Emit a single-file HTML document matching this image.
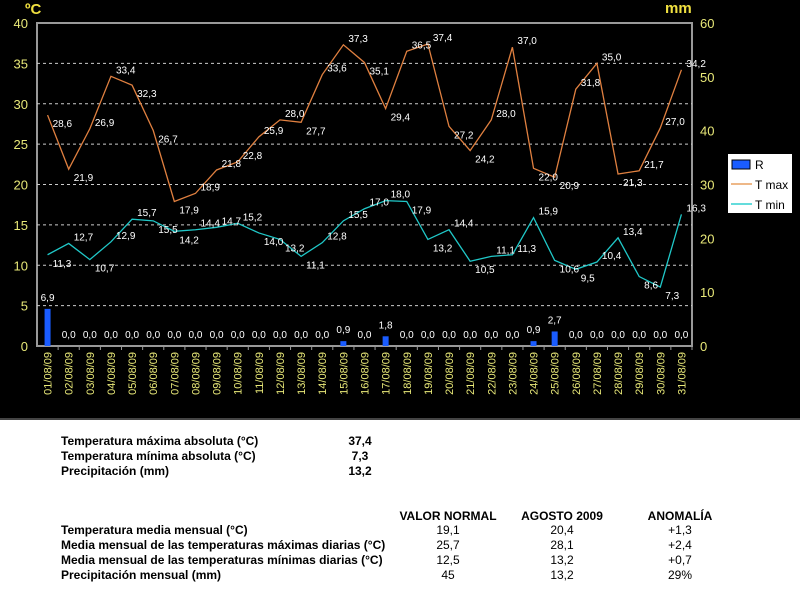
<!DOCTYPE html>
<html><head><meta charset="utf-8"><style>
body{margin:0;width:800px;height:593px;background:#fff;overflow:hidden;font-family:"Liberation Sans",Arial,sans-serif}
#chart{position:absolute;left:0;top:0}
.t{position:absolute;font-size:12px;color:#000;white-space:nowrap}
.b{font-weight:bold}
.c{transform:translateX(-50%)}
</style></head><body>
<svg id="chart" width="800" height="420" xmlns="http://www.w3.org/2000/svg" font-family="Liberation Sans, Arial, sans-serif"></svg>

<div class="t b" style="left:61px;top:434px">Temperatura máxima absoluta (°C)</div>
<div class="t b c" style="left:360px;top:434px">37,4</div>
<div class="t b" style="left:61px;top:449px">Temperatura mínima absoluta (°C)</div>
<div class="t b c" style="left:360px;top:449px">7,3</div>
<div class="t b" style="left:61px;top:464px">Precipitación (mm)</div>
<div class="t b c" style="left:360px;top:464px">13,2</div>

<div class="t b c" style="left:448px;top:509px">VALOR NORMAL</div>
<div class="t b c" style="left:562px;top:509px">AGOSTO 2009</div>
<div class="t b c" style="left:680px;top:509px">ANOMALÍA</div>

<div class="t b" style="left:61px;top:523px">Temperatura media mensual (°C)</div>
<div class="t c" style="left:448px;top:523px">19,1</div>
<div class="t c" style="left:562px;top:523px">20,4</div>
<div class="t c" style="left:680px;top:523px">+1,3</div>

<div class="t b" style="left:61px;top:538px">Media mensual de las temperaturas máximas diarias (°C)</div>
<div class="t c" style="left:448px;top:538px">25,7</div>
<div class="t c" style="left:562px;top:538px">28,1</div>
<div class="t c" style="left:680px;top:538px">+2,4</div>

<div class="t b" style="left:61px;top:553px">Media mensual de las temperaturas mínimas diarias (°C)</div>
<div class="t c" style="left:448px;top:553px">12,5</div>
<div class="t c" style="left:562px;top:553px">13,2</div>
<div class="t c" style="left:680px;top:553px">+0,7</div>

<div class="t b" style="left:61px;top:568px">Precipitación mensual (mm)</div>
<div class="t c" style="left:448px;top:568px">45</div>
<div class="t c" style="left:562px;top:568px">13,2</div>
<div class="t c" style="left:680px;top:568px">29%</div>

<script>
const days = ["01/08/09","02/08/09","03/08/09","04/08/09","05/08/09","06/08/09","07/08/09","08/08/09","09/08/09","10/08/09","11/08/09","12/08/09","13/08/09","14/08/09","15/08/09","16/08/09","17/08/09","18/08/09","19/08/09","20/08/09","21/08/09","22/08/09","23/08/09","24/08/09","25/08/09","26/08/09","27/08/09","28/08/09","29/08/09","30/08/09","31/08/09"];
const tmax = [28.6,21.9,26.9,33.4,32.3,26.7,17.9,18.9,21.8,22.8,25.9,28.0,27.7,33.6,37.3,35.1,29.4,36.5,37.4,27.2,24.2,28.0,37.0,22.0,20.9,31.8,35.0,21.3,21.7,27.0,34.2];
const tmin = [11.3,12.7,10.7,12.9,15.7,15.5,14.2,14.4,14.7,15.2,14.0,13.2,11.1,12.8,15.5,17.0,18.0,17.9,13.2,14.4,10.5,11.1,11.3,15.9,10.6,9.5,10.4,13.4,8.6,7.3,16.3];
const rain = [6.9,0,0,0,0,0,0,0,0,0,0,0,0,0,0.9,0,1.8,0,0,0,0,0,0,0.9,2.7,0,0,0,0,0,0];
const leftTicks = [0,5,10,15,20,25,30,35,40];
const rightTicks = [0,10,20,30,40,50,60];

const svg = document.getElementById('chart');
const NS = 'http://www.w3.org/2000/svg';
const L=37, R=692, T=23, B=346;
const x = i => L + (R-L)/days.length*(i+0.5);
const yL = v => B - (B-T)*v/40;
const yR = v => B - (B-T)*v/60;
const fmt = v => v.toFixed(1).replace('.',',');
function mk(tag, attrs, parent){const e=document.createElementNS(NS,tag);for(const k in attrs)e.setAttribute(k,attrs[k]);(parent||svg).appendChild(e);return e;}

mk('rect',{x:0,y:0,width:800,height:420,fill:'#000'});
mk('line',{x1:0,y1:419,x2:800,y2:419,stroke:'#888','stroke-width':1});
mk('rect',{x:L,y:T,width:R-L,height:B-T,fill:'none',stroke:'#999','stroke-width':2});

leftTicks.forEach(v=>{
  if(v>0&&v<40){const g=mk('line',{x1:L,x2:R,y1:yL(v),y2:yL(v),stroke:'#ccc','stroke-dasharray':'3,3','stroke-width':1});
  }
  const t=mk('text',{x:28,y:yL(v)+5,'text-anchor':'end',fill:'#e8e878','font-size':13});t.textContent=v;
  
  
});
rightTicks.forEach(v=>{
  const t=mk('text',{x:700,y:yR(v)+5,fill:'#e8e878','font-size':13});t.textContent=v;
  
  
});
let u=mk('text',{x:25,y:14,fill:'#f0e040','font-size':15,'font-weight':'bold'});u.textContent='ºC';


u=mk('text',{x:665,y:13,fill:'#f0e040','font-size':15,'font-weight':'bold'});u.textContent='mm';



days.forEach((d,i)=>{
  mk('line',{x1:L+(R-L)/days.length*(i+1),x2:L+(R-L)/days.length*(i+1),y1:B,y2:B+4,stroke:'#999'});
  const t=mk('text',{transform:`translate(${x(i)+4},${B+6}) rotate(-90)`,'text-anchor':'end',fill:'#e8e878','font-size':11});
  t.textContent=d;
  
  
});

rain.forEach((v,i)=>{
  if(v>0){const b=mk('rect',{x:x(i)-3,y:yR(v),width:6,height:B-yR(v),fill:'#1a5cff'});
  
  }
  const t=mk('text',{x:x(i),y:yR(v)-8,'text-anchor':'middle',fill:'#fff','font-size':10});t.textContent=fmt(v);
  
  
});

function series(arr,color,name){
  const p=mk('polyline',{points:arr.map((v,i)=>x(i)+','+yL(v)).join(' '),fill:'none',stroke:color,'stroke-width':1.3});
  
  
  arr.forEach((v,i)=>{
    const up = i>0 && arr[i]>=arr[i-1];
    const t=mk('text',{x:x(i)+5,y:yL(v)+(up?-3:12),fill:'#fff','font-size':10});t.textContent=fmt(v);
    
    
  });
}
series(tmax,'#e08040','tmax-line');
series(tmin,'#20c8c8','tmin-line');

const lg=mk('g',{});


mk('rect',{x:728,y:154,width:64,height:59,fill:'#fff'},lg);
mk('rect',{x:732,y:160,width:18,height:9,fill:'#1a5cff',stroke:'#000'},lg);
mk('line',{x1:731,x2:752,y1:184,y2:184,stroke:'#e8a060','stroke-width':1.5},lg);
mk('line',{x1:731,x2:752,y1:204,y2:204,stroke:'#30d0d0','stroke-width':1.5},lg);
[['R',169],['T max',189],['T min',209]].forEach(([s,yy])=>{const t=mk('text',{x:755,y:yy,fill:'#000','font-size':12},lg);t.textContent=s;

});
</script>
</body></html>
